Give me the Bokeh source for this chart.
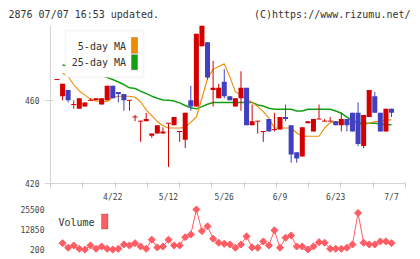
import math
from bokeh.plotting import figure
from bokeh.layouts import column
from bokeh.models import (ColumnDataSource, FixedTicker, Range1d, Label,
                          BoxAnnotation, NumeralTickFormatter, LinearAxis)
from bokeh.embed import file_html
from bokeh.resources import INLINE

nan = float("nan")

# ---------------- data ----------------
opens = [470, 462, 465, 458, 456, 457, 460, 460, 458, 460,
         467, 464, 463, 460, 452, 450, 450, 443, 444, 444,
         449, 448, 445, 441, 460, 457, 486, 488, 465, 461,
         469, 462, 457, 461, 466, 448, 450, 445, 451, 446,
         446, 452, 448, 435, 433, 449, 445, 451, 450, 450,
         450, 448, 451, 454, 454, 438, 452, 462, 454, 445,
         456]
highs = [470, 468, 465, 460, 461, 459, 461, 461, 461, 467,
         467, 464, 463, 460, 453, 450, 454, 444, 448, 447,
         449, 452, 445, 454, 467, 492, 496, 488, 479, 468,
         475, 462, 461, 474, 466, 458, 450, 445, 451, 454,
         452, 458, 448, 435, 447, 450, 451, 458, 451, 452,
         450, 454, 451, 454, 459, 453, 465, 464, 454, 456,
         456]
lows = [470, 460, 459, 456, 456, 457, 460, 460, 458, 460,
        461, 459, 455, 455, 450, 440, 450, 442, 444, 444,
        428, 448, 440, 437, 455, 457, 486, 470, 457, 461,
        461, 460, 457, 455, 448, 448, 444, 440, 445, 445,
        446, 450, 430, 430, 433, 449, 445, 451, 450, 450,
        448, 445, 445, 445, 438, 437, 452, 454, 445, 445,
        452]
closes = [470, 468, 460, 458, 461, 459, 460, 461, 461, 467,
          461, 463, 460, 460, 452, 450, 451, 444, 448, 445,
          449, 452, 445, 454, 457, 492, 496, 471, 466, 466,
          462, 460, 461, 466, 448, 450, 450, 445, 445, 446,
          452, 451, 434, 432, 447, 450, 451, 451, 450, 450,
          448, 451, 448, 445, 439, 453, 465, 454, 445, 456,
          454]
ma5 = [nan, 473, 471.5, 467.5, 464.5, 462.5, 460.6, 459.7, 459.3, 459.5,
       461.4, 462, 462, 462, 461.5, 459.3, 455.4, 452.7, 449.8, 447.8,
       446.7, 446.7, 446.7, 447, 449.5, 452, 461, 470.5, 474.9, 476.3,
       477.6, 471.3, 464.1, 462.5, 460.6, 459, 457, 454.6, 451.4, 446.7,
       446.7, 446.7, 446.7, 444.3, 442.7, 442.7, 442.7, 442.7, 446.7, 449.3,
       449.5, 449.5, 449, 448.6, 448.6, 448.2, 449, 449.8, 449.8, 450.6,
       450.6]
ma25 = [nan, 477, 476.5, 476, 475.5, 475, 474, 473, 472, 471,
        470, 468.8, 467.6, 466, 465.7, 464.4, 463.2, 462, 461, 460.2,
        460, 459.7, 458.8, 457.5, 456.4, 455.9, 457, 458.1, 459, 459,
        459, 459, 459, 459, 459, 459, 457.8, 457.3, 456.2, 455.7,
        455.7, 455.7, 455.7, 454.9, 454.9, 455.7, 455.7, 455.7, 455.7, 455.7,
        454.9, 453.8, 451.9, 450.3, 449.3, 449, 449, 449, 448.7, 448.2,
        448.2]
volume = [nan, 4200, 1300, 2750, 650, 200, 2750, 650, 2100, 650,
          200, 650, 3400, 2750, 4200, 2100, 650, 6400, 1500, 2100,
          6400, 2750, 2750, 8000, 9700, 25500, 11850, 14850, 7000, 4500,
          3800, 3400, 1300, 3400, 8500, 1500, 1300, 5300, 2750, 12300,
          1300, 7650, 9100, 2100, 2100, 200, 2100, 4850, 4500, 650,
          650, 650, 1300, 3400, 23300, 4500, 3400, 3400, 5300, 5300,
          4200]
date_labels = ["4/22", "5/12", "5/26", "6/9", "6/23", "7/7"]
date_label_idx = [10, 20, 30, 40, 50, 60]
price_ticks = [420, 460]
volume_ticks = [200, 12850, 25500]
header_left = "2876 07/07 16:53 updated."
header_right = "(C)https://www.rizumu.net/"
legend_labels = ["5-day MA", "25-day MA"]
volume_label = "Volume"

# ---------------- layout / style ----------------
n = len(closes)
idx = list(range(n))

W, HT = 420, 259
L, R = 50, 15                # frame 50..405
P_TOP, P_BOT = 25, 184       # page y of price frame
B1 = 20                      # below-axis room of price panel
H1 = P_BOT + B1
H2 = HT - H1
Q_TOP, Q_BOT = 205, 255      # page y of volume frame
V_HI, V_LO = 209, 249        # page y of max / min volume
CHAR_W = 6.02                # DejaVu Sans Mono advance at 10px

first_px, step_px = 56.5, 5.575
x_start = (L - first_px) / step_px
x_end = (W - R - first_px) / step_px
y1_start, y1_end = 420, max(highs)

FONT = "DejaVu Sans Mono"
TXT = "#333333"
TICKTXT = "#444444"
AXC = "#d4d4d4"
UP, DOWN = "#d40000", "#4040c0"
C5, C25 = "#f08c00", "#12a012"
VOLC = "#ff5c64"


def fx(px):
    return x_start + (px - L) / (W - L - R) * (x_end - x_start)


def fy1(py):
    return y1_end - (py - P_TOP) / (P_BOT - P_TOP) * (y1_end - y1_start)


# ---------------- price panel ----------------
p = figure(width=W, height=H1, x_range=Range1d(x_start, x_end),
           y_range=Range1d(y1_start, y1_end), output_backend="svg",
           toolbar_location=None, min_border_left=L, min_border_right=R,
           min_border_top=P_TOP, min_border_bottom=B1, title=None)
p.outline_line_color = None
p.grid.visible = False

p.line(idx, ma25, line_color=C25, line_width=1.5)
p.line(idx, ma5, line_color=C5, line_width=1.1)

colors = [UP if c >= o else DOWN for o, c in zip(opens, closes)]
src = ColumnDataSource(dict(
    x=idx, h=highs, l=lows,
    top=[max(o, c) for o, c in zip(opens, closes)],
    bottom=[min(o, c) for o, c in zip(opens, closes)],
    color=colors))
p.segment(x0="x", y0="h", x1="x", y1="l", line_color="color", line_width=1, source=src)
p.vbar(x="x", width=0.9, top="top", bottom="bottom", fill_color="color",
       line_color=None, source=src)
doji = [i for i in idx if opens[i] == closes[i]]
dsrc = ColumnDataSource(dict(
    x0=[i - 0.45 for i in doji], x1=[i + 0.45 for i in doji],
    y=[closes[i] for i in doji], color=[colors[i] for i in doji]))
p.segment(x0="x0", y0="y", x1="x1", y1="y", line_color="color", line_width=1, source=dsrc)

xa = p.xaxis[0]
xa.ticker = FixedTicker(ticks=date_label_idx,
                        minor_ticks=[x_start + k * (x_end - x_start) / 11 for k in range(12)])
xa.major_label_overrides = {i: s for i, s in zip(date_label_idx, date_labels)}
xa.axis_line_color = AXC
xa.major_tick_line_color = None
xa.major_tick_in = 0
xa.major_tick_out = 0
xa.minor_tick_line_color = AXC
xa.minor_tick_in = 2
xa.minor_tick_out = 5
xa.major_label_standoff = 4
xa.major_label_text_font = FONT
xa.major_label_text_font_size = "8px"
xa.major_label_text_color = TICKTXT

ya = p.yaxis[0]
ya.ticker = FixedTicker(ticks=price_ticks)
ya.axis_line_color = AXC
ya.major_tick_line_color = AXC
ya.minor_tick_line_color = None
ya.major_tick_in = 3
ya.major_tick_out = 6
ya.major_label_standoff = 5
ya.major_label_text_font = FONT
ya.major_label_text_font_size = "8px"
ya.major_label_text_color = TICKTXT

# header line (drawn as labels of a bare axis above the frame, page-pixel range)
p.extra_x_ranges["hdr"] = Range1d(L, W - R)
hdr_pos = [round(8 + len(header_left) * CHAR_W / 2, 2),
           round(410 - len(header_right) * CHAR_W / 2, 2)]
hx = LinearAxis(x_range_name="hdr", ticker=FixedTicker(ticks=hdr_pos))
hx.major_label_overrides = {hdr_pos[0]: header_left, hdr_pos[1]: header_right}
hx.axis_line_color = None
hx.major_tick_line_color = None
hx.minor_tick_line_color = None
hx.major_tick_in = 0
hx.major_tick_out = 0
hx.major_label_standoff = 6
hx.major_label_text_font = FONT
hx.major_label_text_font_size = "10px"
hx.major_label_text_color = TXT
p.add_layout(hx, "above")

# legend
p.add_layout(BoxAnnotation(left=fx(65), right=fx(143), top=fy1(30), bottom=fy1(77),
                           fill_color="white", fill_alpha=1.0,
                           line_color="#e0e0e0", line_width=2))
for lab, yc, col, (ytop, ybot) in zip(legend_labels, [46, 62.5], [C5, C25],
                                       [(37, 53), (54.5, 69.5)]):
    p.add_layout(Label(x=fx(125.5), y=fy1(yc), text=lab, text_font=FONT,
                       text_font_size="10px", text_color=TXT,
                       text_align="right", text_baseline="middle"))
    p.add_layout(BoxAnnotation(left=fx(131), right=fx(137), top=fy1(ytop),
                               bottom=fy1(ybot), fill_color=col, fill_alpha=1.0,
                               line_color="#444444", line_width=1))

# ---------------- volume panel ----------------
vals = [v for v in volume if v == v]
vmin, vmax = min(vals), max(vals)
upp = (vmax - vmin) / (V_LO - V_HI)
y2_end = vmax + (V_HI - Q_TOP) * upp
y2_start = vmin - (Q_BOT - V_LO) * upp
T2 = Q_TOP - H1
B2 = HT - Q_BOT


def fy2(py):
    return y2_end - (py - Q_TOP) / (Q_BOT - Q_TOP) * (y2_end - y2_start)


q = figure(width=W, height=H2, x_range=p.x_range, y_range=Range1d(y2_start, y2_end),
           x_axis_location=None, output_backend="svg", toolbar_location=None,
           min_border_left=L, min_border_right=R, min_border_top=T2,
           min_border_bottom=B2, title=None)
q.outline_line_color = None
q.grid.visible = False
q.line(idx, volume, line_color=VOLC, line_width=1)
q.scatter(idx, volume, marker="square", size=5, angle=math.pi / 4,
          fill_color=VOLC, line_color=VOLC)

qy = q.yaxis[0]
qy.ticker = FixedTicker(ticks=volume_ticks)
qy.formatter = NumeralTickFormatter(format="0")
qy.axis_line_color = None
qy.major_tick_line_color = None
qy.minor_tick_line_color = None
qy.major_tick_out = 0
qy.major_tick_in = 0
qy.major_label_standoff = 6
qy.major_label_text_font = FONT
qy.major_label_text_font_size = "8px"
qy.major_label_text_color = TICKTXT

q.add_layout(Label(x=fx(58), y=fy2(221.7), text=volume_label, text_font=FONT,
                   text_font_size="10px", text_color=TXT,
                   text_align="left", text_baseline="middle"))
q.add_layout(BoxAnnotation(left=fx(101), right=fx(107.5), top=fy2(213.5),
                           bottom=fy2(228.5), fill_color=VOLC, fill_alpha=1.0,
                           line_color="#444444", line_width=1))

layout = column(p, q)
open("out.html", "w").write(file_html(layout, INLINE))
